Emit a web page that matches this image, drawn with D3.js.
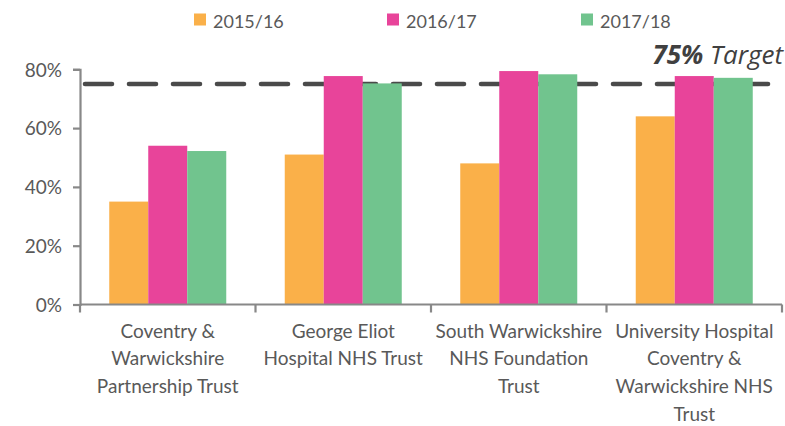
<!DOCTYPE html>
<html>
<head>
<meta charset="utf-8">
<script src="https://cdn.jsdelivr.net/npm/d3@7"></script>
<style>
  html, body { margin: 0; padding: 0; background: #fff; }
  svg { display: block; font-family: Lato, "Open Sans", sans-serif; }
</style>
</head>
<body>
<svg id="chart" width="785" height="426"></svg>
<script>
const categories = [
  ["Coventry &", "Warwickshire", "Partnership Trust"],
  ["George Eliot", "Hospital NHS Trust"],
  ["South Warwickshire", "NHS Foundation", "Trust"],
  ["University Hospital", "Coventry &", "Warwickshire NHS", "Trust"]
];
const seriesNames = ["2015/16", "2016/17", "2017/18"];
const values2015 = [0.35, 0.51, 0.48, 0.64];
const values2016 = [0.54, 0.777, 0.794, 0.777];
const values2017 = [0.522, 0.752, 0.783, 0.771];
const seriesColors = ["#FAB049", "#E8449A", "#71C48E"];
const yTicks = [0, 0.2, 0.4, 0.6, 0.8];
const targetValue = 0.75;

const allSeries = [values2015, values2016, values2017];

const svg = d3.select("#chart");
const margin = { left: 80, right: 3 };
const W = 785;
const x0 = d3.scaleBand().domain(d3.range(categories.length))
  .range([margin.left, W - margin.right]).paddingInner(0).paddingOuter(0);
const y = d3.scaleLinear().domain([0, 0.8]).range([304.5, 69.3]);
const x1 = d3.scaleBand().domain(d3.range(seriesNames.length))
  .range([0, x0.bandwidth()]).paddingInner(0).paddingOuter(0.75);

// target line (behind bars)
svg.append("line")
  .attr("x1", margin.left + 5).attr("x2", 768)
  .attr("y1", y(targetValue)).attr("y2", y(targetValue))
  .attr("stroke", "#4a4a4a").attr("stroke-width", 4.6)
  .attr("stroke-linecap", "round")
  .attr("stroke-dasharray", "27,17");

// bars
const groups = svg.append("g").selectAll("g")
  .data(categories.map((c, i) => i))
  .join("g")
  .attr("transform", i => `translate(${x0(i)},0)`);
groups.selectAll("rect")
  .data(i => allSeries.map((s, k) => ({ k, v: s[i] })))
  .join("rect")
  .attr("x", d => x1(d.k))
  .attr("width", x1.bandwidth())
  .attr("y", d => y(d.v))
  .attr("height", d => y(0) - y(d.v))
  .attr("fill", d => seriesColors[d.k]);

// y axis
const yAxis = d3.axisLeft(y).tickValues(yTicks).tickFormat(d3.format(".0%"))
  .tickSize(7).tickPadding(11);
const gy = svg.append("g").attr("transform", `translate(${margin.left},0)`).call(yAxis);
gy.select(".domain").attr("stroke", "#888").attr("stroke-width", 2.2);
gy.selectAll(".tick line").attr("stroke", "#888").attr("stroke-width", 2.2);
gy.selectAll(".tick text").attr("fill", "#595959").style("font-size", "19px")
  .style("font-family", "Lato, sans-serif").attr("dy", "0.36em");

// x axis baseline and divider ticks
const xAxisY = y(0);
svg.append("line").attr("x1", margin.left).attr("x2", W - margin.right)
  .attr("y1", xAxisY).attr("y2", xAxisY).attr("stroke", "#888").attr("stroke-width", 2.2);
const dividers = d3.range(categories.length + 1).map(i => i < categories.length ? x0(i) : x0(i - 1) + x0.bandwidth());
svg.append("g").selectAll("line").data(dividers).join("line")
  .attr("x1", d => d).attr("x2", d => d)
  .attr("y1", xAxisY).attr("y2", xAxisY + 8)
  .attr("stroke", "#888").attr("stroke-width", 2.2);

// x labels
const lab = svg.append("g").selectAll("text").data(categories.map((c, i) => ({ c, i })))
  .join("text")
  .attr("text-anchor", "middle")
  .attr("fill", "#595959")
  .style("font-size", "19px")
  .attr("transform", d => `translate(${x0(d.i) + x0.bandwidth() / 2},337.5)`);
lab.selectAll("tspan").data(d => d.c).join("tspan")
  .attr("x", 0).attr("y", (d, j) => j * 27.8).text(d => d);

const tgt = svg.append("text").attr("x", 783).attr("y", 64)
  .attr("text-anchor", "end").attr("fill", "#404040")
  .style("font-family", "'Open Sans', sans-serif")
  .style("font-size", "26px").style("font-style", "italic");
tgt.append("tspan").style("font-weight", "bold").text(d3.format(".0%")(targetValue));
tgt.append("tspan").text(" Target");

// legend
const legendX = [194, 387, 581];
const leg = svg.append("g").selectAll("g").data(seriesNames.map((n, k) => ({ n, k })))
  .join("g").attr("transform", d => `translate(${legendX[d.k]},0)`);
leg.append("rect").attr("x", 0).attr("y", 13.5).attr("width", 12).attr("height", 12)
  .attr("fill", d => seriesColors[d.k]);
leg.append("text").attr("x", 19).attr("y", 28).attr("fill", "#595959")
  .style("font-size", "18px").text(d => d.n);
</script>
</body>
</html>
